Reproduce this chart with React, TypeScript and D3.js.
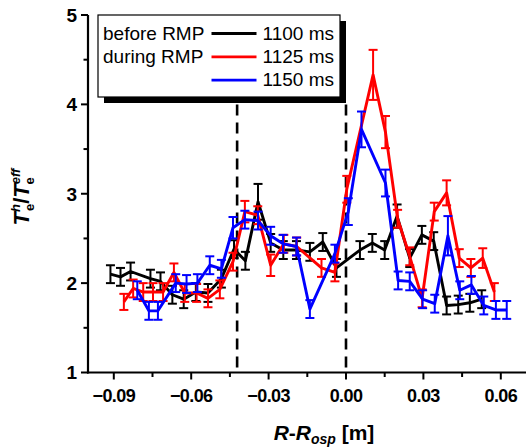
import React from "react";
import * as d3 from "d3";

// Distance from the outer strike point, metres
const blackX = [-0.0913, -0.0874, -0.0835, -0.0758, -0.0719, -0.0673, -0.0629, -0.0582, -0.0535, -0.0483, -0.0434, -0.039, -0.0341, -0.0292, -0.0243, -0.0192, -0.014, -0.009, -0.0037, 0.0054, 0.0102, 0.015, 0.0198, 0.0247, 0.0294, 0.034, 0.039, 0.0435, 0.048, 0.0526];
const blackY = [2.1, 2.07, 2.13, 2.05, 2.02, 1.87, 1.82, 1.9, 1.89, 2.05, 2.38, 2.25, 2.91, 2.45, 2.37, 2.37, 2.35, 2.46, 2.17, 2.37, 2.45, 2.37, 2.75, 2.28, 2.54, 2.47, 1.75, 1.76, 1.78, 1.82];
const blackErr = [0.1, 0.1, 0.1, 0.1, 0.1, 0.1, 0.1, 0.1, 0.1, 0.1, 0.1, 0.1, 0.2, 0.1, 0.1, 0.1, 0.1, 0.1, 0.1, 0.1, 0.1, 0.1, 0.13, 0.1, 0.1, 0.1, 0.1, 0.1, 0.1, 0.1];

const redX = [-0.0861, -0.0825, -0.0786, -0.0748, -0.0709, -0.0667, -0.0625, -0.0579, -0.0535, -0.0489, -0.0438, -0.0392, -0.0342, -0.0292, -0.0241, -0.0191, -0.0095, -0.0043, 0.0003, 0.0105, 0.0153, 0.02, 0.0247, 0.0295, 0.0342, 0.039, 0.0439, 0.0484, 0.053, 0.0575];
const redY = [1.79, 1.94, 1.9, 1.9, 1.9, 2.12, 1.89, 1.89, 1.83, 1.93, 2.24, 2.8, 2.76, 2.2, 2.44, 2.41, 2.17, 2.12, 3.05, 4.33, 3.69, 2.72, 2.3, 1.83, 2.8, 3.01, 2.28, 2.17, 2.28, 1.9];
const redErr = [0.09, 0.1, 0.1, 0.1, 0.1, 0.1, 0.1, 0.1, 0.1, 0.1, 0.1, 0.12, 0.1, 0.12, 0.1, 0.1, 0.1, 0.1, 0.15, 0.28, 0.18, 0.1, 0.1, 0.1, 0.1, 0.14, 0.1, 0.1, 0.11, 0.1];

const blueX = [-0.0809, -0.0764, -0.0729, -0.066, -0.0618, -0.0576, -0.0528, -0.0483, -0.0438, -0.0392, -0.0341, -0.0292, -0.0244, -0.0192, -0.014, -0.0043, 0.0009, 0.006, 0.0153, 0.0202, 0.0247, 0.0297, 0.0344, 0.0395, 0.0441, 0.0486, 0.0534, 0.0581, 0.0623];
const blueY = [1.92, 1.69, 1.69, 2.0, 1.99, 2.0, 2.2, 2.16, 2.62, 2.71, 2.7, 2.53, 2.44, 2.41, 1.71, 2.33, 2.8, 3.72, 3.12, 2.03, 2.02, 1.82, 1.77, 2.53, 1.92, 1.98, 1.75, 1.7, 1.7];
const blueErr = [0.1, 0.1, 0.1, 0.1, 0.1, 0.1, 0.1, 0.1, 0.12, 0.1, 0.1, 0.1, 0.1, 0.1, 0.1, 0.1, 0.15, 0.2, 0.15, 0.1, 0.1, 0.1, 0.1, 0.22, 0.1, 0.1, 0.1, 0.1, 0.1];

const xMajorTicks = [-0.09, -0.06, -0.03, 0.0, 0.03, 0.06];
const xMinorTicks = [-0.075, -0.045, -0.015, 0.015, 0.045];
const yMajorTicks = [1, 2, 3, 4, 5];
const yMinorTicks = [1.5, 2.5, 3.5, 4.5];
const separatrixX = [-0.0422, 0.0];

const legendRows = [
  { left: "before RMP", right: "1100 ms", color: "#000000" },
  { left: "during RMP", right: "1125 ms", color: "#ff0000" },
  { left: "", right: "1150 ms", color: "#0000ff" },
];

const FONT = "'Liberation Sans', Arial, Helvetica, sans-serif";

type Series = { xs: number[]; ys: number[]; err: number[]; color: string };

export default function App() {
  const W = 526;
  const H = 448;
  const x = d3.scaleLinear().domain([-0.1, 0.07]).range([88, 526.6]);
  const y = d3.scaleLinear().domain([1, 5]).range([372.5, 15]);

  const series: Series[] = [
    { xs: blackX, ys: blackY, err: blackErr, color: "#000000" },
    { xs: redX, ys: redY, err: redErr, color: "#ff0000" },
    { xs: blueX, ys: blueY, err: blueErr, color: "#0000ff" },
  ];

  const line = d3
    .line<[number, number]>()
    .x((d) => x(d[0]))
    .y((d) => y(d[1]));

  const x0 = x.range()[0];
  const y0 = y.range()[0];
  const yTop = y(5);

  return (
    <svg
      width={W}
      height={H}
      viewBox={`0 0 ${W} ${H}`}
      style={{ position: "absolute", left: 0, top: 0, background: "#fff" }}
      fontFamily={FONT}
    >
      <rect x={0} y={0} width={W} height={H} fill="#fff" />

      {/* separatrix markers */}
      {separatrixX.map((v) => (
        <line
          key={v}
          x1={x(v)}
          x2={x(v)}
          y1={y(4)}
          y2={y0}
          stroke="#000"
          strokeWidth={2.6}
          strokeDasharray="11,7"
        />
      ))}

      {/* data series with error bars */}
      {series.map((s, si) => {
        const pts = s.xs.map((v, i) => [v, s.ys[i]] as [number, number]);
        return (
          <g key={si}>
            <path d={line(pts) || ""} fill="none" stroke={s.color} strokeWidth={2.9} strokeLinejoin="round" />
            {pts.map((p, i) => {
              const cx = x(p[0]);
              const yh = y(p[1] + s.err[i]);
              const yl = y(p[1] - s.err[i]);
              return (
                <g key={i} stroke={s.color} strokeWidth={2}>
                  <line x1={cx} x2={cx} y1={yh} y2={yl} />
                  <line x1={cx - 4.5} x2={cx + 4.5} y1={yh} y2={yh} />
                  <line x1={cx - 4.5} x2={cx + 4.5} y1={yl} y2={yl} />
                </g>
              );
            })}
          </g>
        );
      })}

      {/* axes */}
      <line x1={x0} x2={x0} y1={yTop} y2={y0 + 1} stroke="#000" strokeWidth={2.2} />
      <line x1={x0 - 1} x2={W} y1={y0} y2={y0} stroke="#000" strokeWidth={2.2} />

      {yMajorTicks.map((t) => (
        <g key={t}>
          <line x1={x0 - 7} x2={x0} y1={y(t)} y2={y(t)} stroke="#000" strokeWidth={2} />
          <text
            x={x0 - 11}
            y={y(t)}
            dy="0.36em"
            textAnchor="end"
            fontSize={19}
            fontWeight="bold"
          >
            {t}
          </text>
        </g>
      ))}
      {yMinorTicks.map((t) => (
        <line key={t} x1={x0 - 4.5} x2={x0} y1={y(t)} y2={y(t)} stroke="#000" strokeWidth={2} />
      ))}

      {xMajorTicks.map((t) => (
        <g key={t}>
          <line x1={x(t)} x2={x(t)} y1={y0} y2={y0 + 7} stroke="#000" strokeWidth={2} />
          <text
            x={x(t)}
            y={401.5}
            textAnchor="middle"
            fontSize={18}
            fontWeight="bold"
            letterSpacing={-0.6}
          >
            {d3.format(".2f")(t)}
          </text>
        </g>
      ))}
      {xMinorTicks.map((t) => (
        <line key={t} x1={x(t)} x2={x(t)} y1={y0} y2={y0 + 4.5} stroke="#000" strokeWidth={2} />
      ))}

      {/* axis titles */}
      <text x={324} y={440} textAnchor="middle" fontSize={21} fontWeight="bold">
        <tspan fontStyle="italic">R</tspan>
        <tspan>-</tspan>
        <tspan fontStyle="italic">R</tspan>
        <tspan fontStyle="italic" fontSize={14} dy={4}>osp</tspan>
        <tspan dy={-4}> [m]</tspan>
      </text>

      <text
        transform="translate(29,197) rotate(-90)"
        textAnchor="middle"
        fontSize={22}
        fontWeight="bold"
      >
        <tspan fontStyle="italic">T</tspan>
        <tspan fontSize={13} fontStyle="italic" dy={-9}>h</tspan>
        <tspan fontSize={13} dx={-7} dy={14}>e</tspan>
        <tspan dy={-5}>/</tspan>
        <tspan fontStyle="italic">T</tspan>
        <tspan fontSize={13} fontStyle="italic" dy={-9}>eff</tspan>
        <tspan fontSize={13} dx={-16} dy={14}>e</tspan>
      </text>

      {/* legend */}
      <g>
        <rect x={104} y={21} width={242} height={82} fill="#000" />
        <rect x={98} y={15} width={242} height={82} fill="#fff" stroke="#000" strokeWidth={1.2} />
        {legendRows.map((r, i) => {
          const ly = 33.5 + i * 23.3;
          return (
            <g key={i}>
              {r.left && (
                <text x={103} y={ly + 6.3} fontSize={19}>
                  {r.left}
                </text>
              )}
              <line x1={211.5} x2={256.5} y1={ly} y2={ly} stroke={r.color} strokeWidth={2.8} />
              <text x={262.5} y={ly + 6.3} fontSize={19}>
                {r.right}
              </text>
            </g>
          );
        })}
      </g>
    </svg>
  );
}
